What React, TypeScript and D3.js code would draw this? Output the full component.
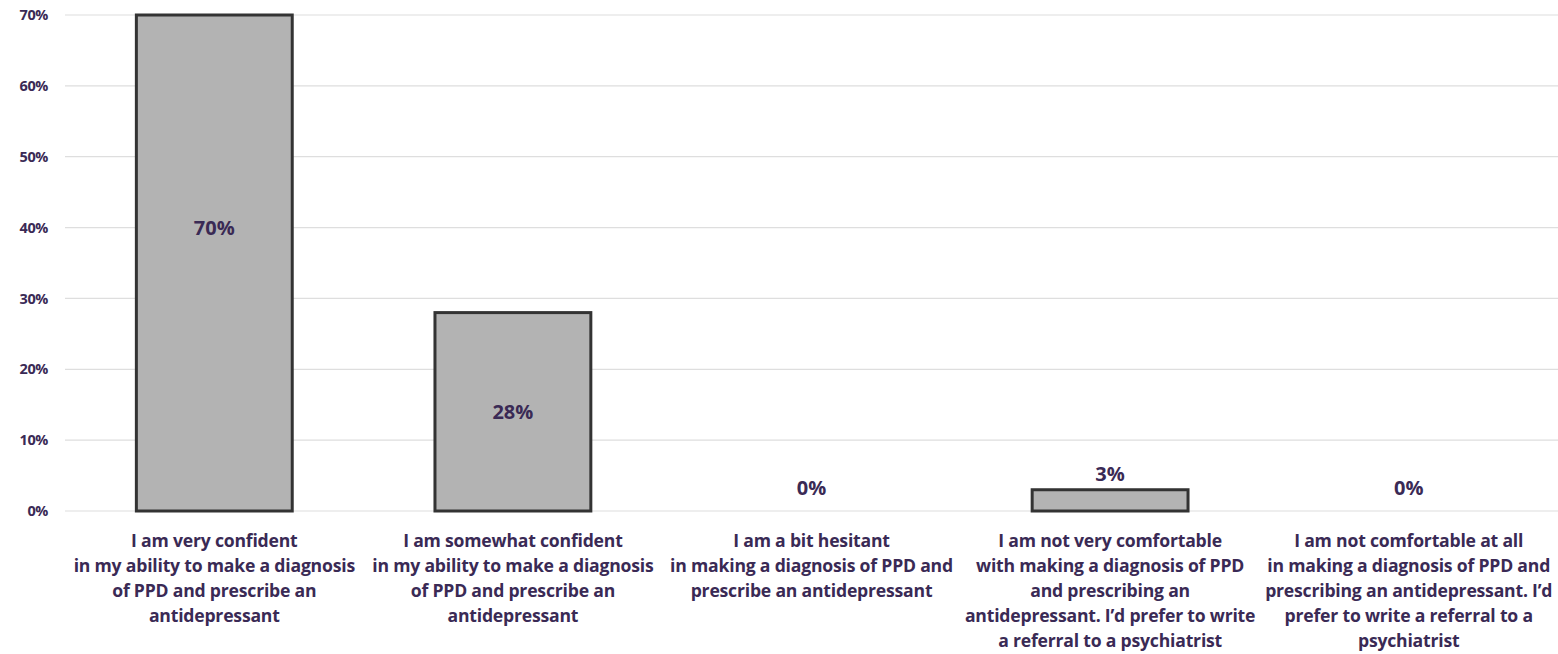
import React from "react";
import * as d3 from "d3";

const categories: string[][] = [
  ["I am very confident", "in my ability to make a diagnosis", "of PPD and prescribe an", "antidepressant"],
  ["I am somewhat confident", "in my ability to make a diagnosis", "of PPD and prescribe an", "antidepressant"],
  ["I am a bit hesitant", "in making a diagnosis of PPD and", "prescribe an antidepressant"],
  ["I am not very comfortable", "with making a diagnosis of PPD", "and prescribing an", "antidepressant. I\u2019d prefer to write", "a referral to a psychiatrist"],
  ["I am not comfortable at all", "in making a diagnosis of PPD and", "prescribing an antidepressant. I\u2019d", "prefer to write a referral to a", "psychiatrist"],
];
const values: number[] = [70, 28, 0, 3, 0];
const yTicks: number[] = [0, 10, 20, 30, 40, 50, 60, 70];

const W = 1558;
const H = 654;
const FONT = "'Open Sans', Lato, sans-serif";
const TEXT = "#3a2a55";

export default function App() {
  const margin = { top: 15, right: 0, bottom: 143, left: 65 };
  const x = d3
    .scaleBand<number>()
    .domain(values.map((_, i) => i))
    .range([margin.left, W - margin.right])
    .paddingInner(0.478)
    .paddingOuter(0.239);
  const y = d3.scaleLinear().domain([0, 70]).range([H - margin.bottom, margin.top]);
  const y0 = y(0);

  return (
    <svg
      width={W}
      height={H}
      style={{ position: "absolute", left: 0, top: 0, background: "#fff" }}
      fontFamily={FONT}
    >
      {yTicks.map((t) => (
        <g key={t}>
          <line x1={margin.left} x2={W} y1={y(t)} y2={y(t)} stroke="#dedede" strokeWidth={1.2} />
          <text
            x={48}
            y={y(t)}
            dy="0.35em"
            textAnchor="end"
            fontSize={14.5}
            fontWeight={700}
            fill={TEXT}
            letterSpacing={-0.4}
          >
            {t}%
          </text>
        </g>
      ))}

      {values.map((v, i) => {
        const bx = x(i)!;
        const bw = x.bandwidth();
        const cx = bx + bw / 2;
        const top = y(v);
        return (
          <g key={i}>
            {v > 0 && (
              <rect
                x={bx}
                y={top}
                width={bw}
                height={y0 - top}
                fill="#b3b3b3"
                stroke="#333333"
                strokeWidth={3}
              />
            )}
            {v >= 10 ? (
              <text
                x={cx}
                y={y(Math.max(v / 2, v - 30))}
                dy="0.35em"
                textAnchor="middle"
                fontSize={20}
                fontWeight={700}
                fill={TEXT}
              >
                {v}%
              </text>
            ) : (
              <text
                x={cx}
                y={top - (v > 0 ? 16 : 23)}
                dy="0.35em"
                textAnchor="middle"
                fontSize={20}
                fontWeight={700}
                fill={TEXT}
              >
                {v}%
              </text>
            )}
            {categories[i].map((line, k) => (
              <text
                key={k}
                x={cx}
                y={y0 + 30 + k * 25}
                dy="0.35em"
                textAnchor="middle"
                fontSize={17.6}
                fontWeight={700}
                fill={TEXT}
                letterSpacing={-0.2}
              >
                {line}
              </text>
            ))}
          </g>
        );
      })}
    </svg>
  );
}
